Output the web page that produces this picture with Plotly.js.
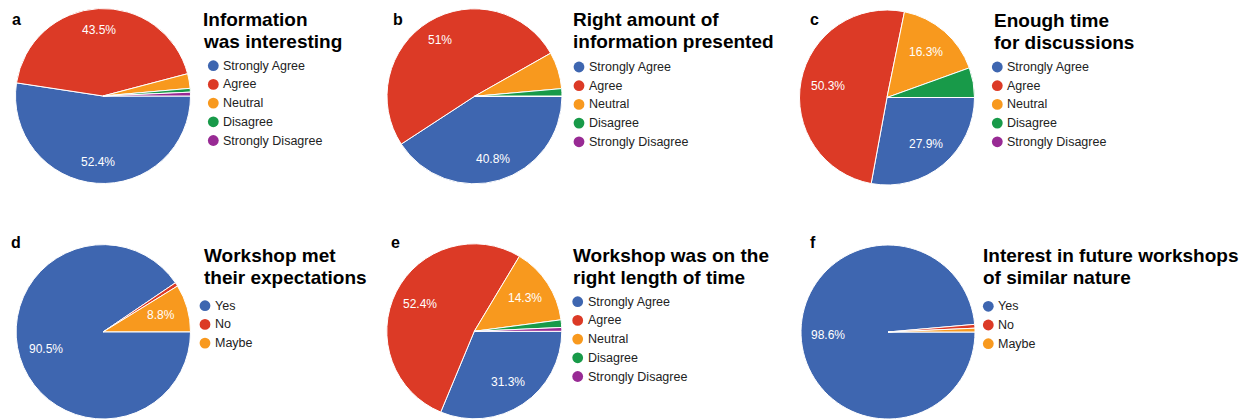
<!DOCTYPE html>
<html>
<head>
<meta charset="utf-8">
<script src="https://cdn.plot.ly/plotly-3.0.1.min.js"></script>
<style>
html,body{margin:0;padding:0;background:#fff;}
#chart{width:1244px;height:419px;}
</style>
</head>
<body>
<div id="chart"></div>
<script>
// ---- data ----
const panelLetters = ["a", "b", "c", "d", "e", "f"];
const titleA = ["Information", "was interesting"];
const titleB = ["Right amount of", "information presented"];
const titleC = ["Enough time", "for discussions"];
const titleD = ["Workshop met", "their expectations"];
const titleE = ["Workshop was on the", "right length of time"];
const titleF = ["Interest in future workshops", "of similar nature"];

const agreeLabels = ["Strongly Agree", "Agree", "Neutral", "Disagree", "Strongly Disagree"];
const yesNoLabels = ["Yes", "No", "Maybe"];

// percentages
const valuesA = [52.4, 43.5, 2.7, 0.7, 0.7];
const valuesB = [40.8, 51.0, 6.8, 1.4, 0.0];
const valuesC = [27.9, 50.3, 16.3, 5.5, 0.0];
const valuesD = [90.5, 0.7, 8.8];
const valuesE = [31.3, 52.4, 14.3, 1.4, 0.7];
const valuesF = [98.6, 0.7, 0.7];

const sliceColors = ["#3E66B0", "#DC3A26", "#F8991E", "#189A49", "#982A94"];

// ---- layout helpers (positions only) ----
const W = 1244, H = 419;
const px = x => x / W;
const py = y => 1 - y / H;

const panels = [
  {title: titleA, labels: agreeLabels, values: valuesA, cx: 103, cy: 96, r: 87.5, lf: 0.76, lx: 9.5, ly: 20, tx: 201, ty: 19.4, gx: 213.3, gy: 65.7},
  {title: titleB, labels: agreeLabels, values: valuesB, cx: 474.5, cy: 96.3, r: 87.5, lf: 0.75, lx: 390.5, ly: 20, tx: 571, ty: 19.8, gx: 579, gy: 67},
  {title: titleC, labels: agreeLabels, values: valuesC, cx: 887, cy: 97.5, r: 87.5, lf: 0.69, lx: 807.5, ly: 20, tx: 991.5, ty: 20.3, gx: 997.3, gy: 67},
  {title: titleD, labels: yesNoLabels, values: valuesD, cx: 103.3, cy: 331.8, r: 87.2, lf: 0.69, lx: 9, ly: 242.6, tx: 201.5, ty: 255, gx: 205, gy: 305.7},
  {title: titleE, labels: agreeLabels, values: valuesE, cx: 474.3, cy: 331.3, r: 87.5, lf: 0.69, lx: 389, ly: 242.6, tx: 571, ty: 255.7, gx: 577.7, gy: 301.7},
  {title: titleF, labels: yesNoLabels, values: valuesF, cx: 888, cy: 332, r: 87, lf: 0.69, lx: 808, ly: 242.6, tx: 981, ty: 255.7, gx: 988.3, gy: 306.3}
];

const FONT = "Liberation Sans, Arial, Helvetica, sans-serif";
const titleLineGap = 22.2;
const legendStep = 18.7;
const dotR = 5.4;

function fmtPct(v) {
  let s = (Math.round(v * 10) / 10).toFixed(1);
  if (s.endsWith(".0")) s = s.slice(0, -2);
  return s + "%";
}

const traces = [];
const annotations = [];
const shapes = [];

panels.forEach((p, i) => {
  const total = p.values.reduce((a, b) => a + b, 0);
  traces.push({
    type: "pie",
    labels: p.labels,
    values: p.values,
    textinfo: "none",
    textposition: "none",
    sort: false,
    direction: "clockwise",
    rotation: 90,
    marker: {colors: sliceColors.slice(0, p.values.length), line: {color: "#ffffff", width: 1}},
    hoverinfo: "label+percent",
    showlegend: false,
    domain: {
      x: [Math.max(0, px(p.cx - p.r)), Math.min(1, px(p.cx + p.r))],
      y: [Math.max(0, py(p.cy + p.r)), Math.min(1, py(p.cy - p.r))]
    }
  });

  // slice percentage labels (only for slices large enough), placed along slice bisector
  let cum = 0;
  p.values.forEach(v => {
    const mid = (cum + v / 2) / total * 2 * Math.PI; // clockwise from 3 o'clock
    cum += v;
    if (v / total < 0.08) return;
    const x = p.cx + p.lf * p.r * Math.cos(mid);
    const y = p.cy + p.lf * p.r * Math.sin(mid);
    annotations.push({
      xref: "paper", yref: "paper", x: px(x), y: py(y),
      xanchor: "center", yanchor: "middle", showarrow: false,
      text: fmtPct(v),
      font: {family: FONT, size: 12, color: "#ffffff"}
    });
  });

  // panel letter
  annotations.push({
    xref: "paper", yref: "paper", x: px(p.lx), y: py(p.ly),
    xanchor: "left", yanchor: "middle", showarrow: false,
    text: "<b>" + panelLetters[i] + "</b>",
    font: {family: FONT, size: 16, color: "#000000"}
  });

  // title lines
  p.title.forEach((line, j) => {
    annotations.push({
      xref: "paper", yref: "paper", x: px(p.tx), y: py(p.ty + j * titleLineGap),
      xanchor: "left", yanchor: "middle", showarrow: false,
      text: "<b>" + line + "</b>",
      font: {family: FONT, size: 19, color: "#000000"}
    });
  });

  // legend entries
  p.labels.forEach((lab, j) => {
    const yc = p.gy + j * legendStep;
    shapes.push({
      type: "circle", xref: "paper", yref: "paper",
      x0: px(p.gx - dotR), x1: px(p.gx + dotR),
      y0: py(yc + dotR), y1: py(yc - dotR),
      fillcolor: sliceColors[j], line: {width: 0}
    });
    annotations.push({
      xref: "paper", yref: "paper", x: px(p.gx + 8), y: py(yc),
      xanchor: "left", yanchor: "middle", showarrow: false,
      text: lab,
      font: {family: FONT, size: 12.5, color: "#222222"}
    });
  });
});

const layout = {
  width: W, height: H,
  margin: {l: 0, r: 0, t: 0, b: 0, pad: 0},
  paper_bgcolor: "#ffffff",
  plot_bgcolor: "#ffffff",
  showlegend: false,
  annotations: annotations,
  shapes: shapes,
  font: {family: FONT}
};

Plotly.newPlot("chart", traces, layout, {displayModeBar: false, staticPlot: true});
</script>
</body>
</html>
